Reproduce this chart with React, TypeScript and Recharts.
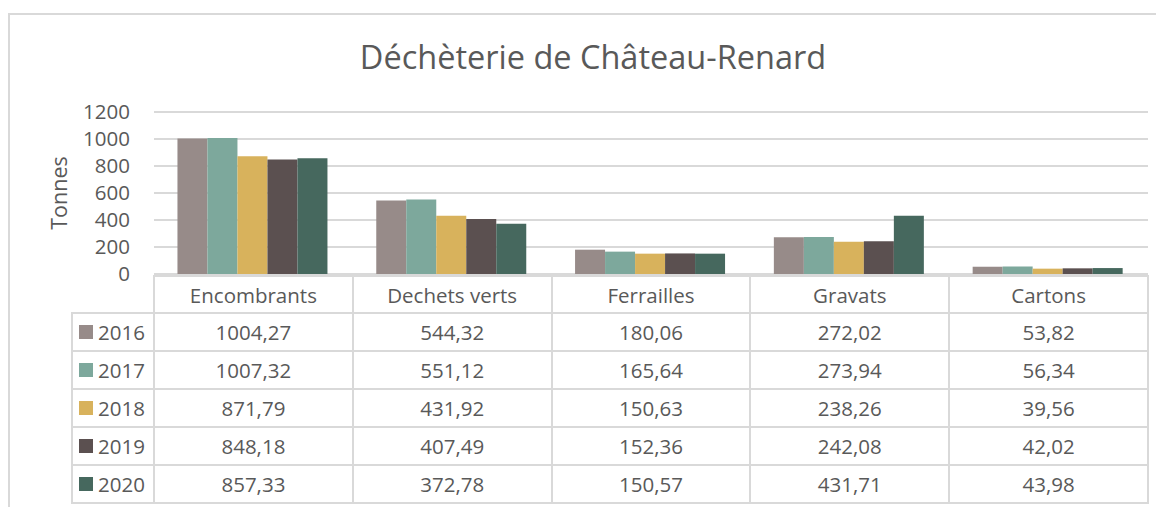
import React from 'react';
import { BarChart, Bar, XAxis, YAxis, CartesianGrid } from 'recharts';

const categories = ['Encombrants', 'Dechets verts', 'Ferrailles', 'Gravats', 'Cartons'];
const years = ['2016', '2017', '2018', '2019', '2020'];
const v2016 = [1004.27, 544.32, 180.06, 272.02, 53.82];
const v2017 = [1007.32, 551.12, 165.64, 273.94, 56.34];
const v2018 = [871.79, 431.92, 150.63, 238.26, 39.56];
const v2019 = [848.18, 407.49, 152.36, 242.08, 42.02];
const v2020 = [857.33, 372.78, 150.57, 431.71, 43.98];
const yTicks = [0, 200, 400, 600, 800, 1000, 1200];
const colors = ['#978b89', '#7da89c', '#d8b25c', '#5b5050', '#46685e'];
const seriesValues = [v2016, v2017, v2018, v2019, v2020];

const data = categories.map((c, i) => {
  const row: Record<string, string | number> = { name: c };
  years.forEach((y, k) => {
    row[y] = seriesValues[k][i];
  });
  return row;
});

const FONT = '"Open Sans", sans-serif';
const TEXT = '#595959';
const LINE = '#d9d9d9';

const fmt = (v: number) => v.toFixed(2).replace('.', ',');

// layout (container coordinates, container at page 8,8)
const PLOT_L = 146;
const PLOT_R = 1140;
const COL_W = (PLOT_R - PLOT_L) / categories.length;
const HEAD_T = 267;
const HEAD_H = 37;
const ROW_H = 38;
const LEG_L = 63;

export default function App() {
  const cellBase: React.CSSProperties = {
    position: 'absolute',
    boxSizing: 'border-box',
    border: `2px solid ${LINE}`,
    display: 'flex',
    alignItems: 'center',
    justifyContent: 'center',
    fontFamily: FONT,
    fontSize: 20.5,
    color: TEXT,
    whiteSpace: 'nowrap',
  };
  const cells: React.ReactNode[] = [];
  categories.forEach((c, i) => {
    cells.push(
      <div
        key={'h' + i}
        style={{ ...cellBase, left: PLOT_L + i * COL_W - 1, top: HEAD_T, width: COL_W + 2, height: HEAD_H + 2 }}
      >
        {c}
      </div>
    );
  });
  years.forEach((y, k) => {
    const top = HEAD_T + HEAD_H + k * ROW_H;
    cells.push(
      <div
        key={'l' + k}
        style={{ ...cellBase, left: LEG_L, top, width: PLOT_L - LEG_L + 1, height: ROW_H + 2, justifyContent: 'flex-start' }}
      >
        <span style={{ display: 'inline-block', width: 14, height: 14, background: colors[k], marginLeft: 6, marginRight: 5 }} />
        <span>{y}</span>
      </div>
    );
    categories.forEach((c, i) => {
      cells.push(
        <div
          key={'c' + k + '_' + i}
          style={{ ...cellBase, left: PLOT_L + i * COL_W - 1, top, width: COL_W + 2, height: ROW_H + 2 }}
        >
          {fmt(seriesValues[k][i])}
        </div>
      );
    });
  });

  return (
    <div style={{ position: 'relative', width: 1156, height: 499, overflow: 'hidden' }}>
      <div
        style={{
          position: 'absolute',
          left: 0,
          top: 5,
          width: 1160,
          height: 500,
          borderLeft: `2px solid ${LINE}`,
          borderTop: `2px solid ${LINE}`,
          boxSizing: 'border-box',
        }}
      />
      <div
        style={{
          position: 'absolute',
          left: 0,
          top: 33,
          width: 1170,
          textAlign: 'center',
          fontFamily: FONT,
          fontSize: 32.5,
          lineHeight: '32px',
          color: TEXT,
        }}
      >
        Déchèterie de Château-Renard
      </div>
      <div style={{ position: 'absolute', left: 0, top: 0 }}>
        <BarChart
          width={1156}
          height={499}
          data={data}
          margin={{ top: 104, right: 16, bottom: 233, left: 0 }}
          barCategoryGap="11.8%"
          barGap={0}
        >
          <CartesianGrid vertical={false} stroke={LINE} strokeWidth={2} />
          <XAxis dataKey="name" hide />
          <YAxis
            width={146}
            domain={[0, 1200]}
            ticks={yTicks}
            interval={0}
            axisLine={false}
            tickLine={false}
            tickMargin={18}
            tick={{ fill: TEXT, fontSize: 20.5, fontFamily: FONT }}
            label={{
              value: 'Tonnes',
              angle: -90,
              position: 'center',
              dx: -22,
              style: { fill: TEXT, fontSize: 21.5, fontFamily: FONT },
            }}
          />
          {years.map((y, k) => (
            <Bar key={y} dataKey={y} fill={colors[k]} isAnimationActive={false} />
          ))}
        </BarChart>
      </div>
      {cells}
    </div>
  );
}
